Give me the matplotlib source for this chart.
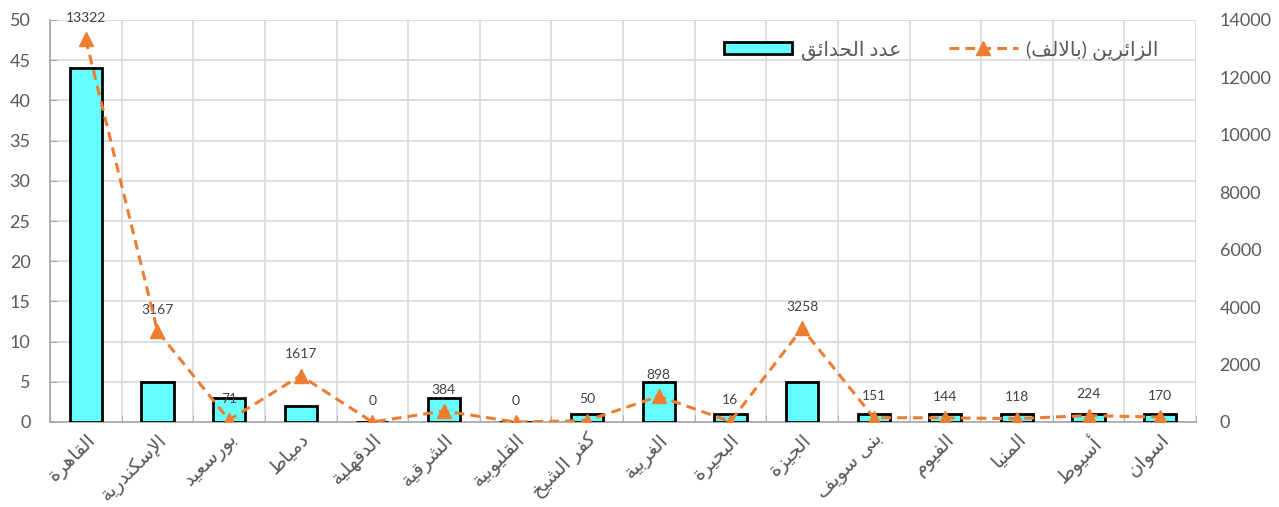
import matplotlib
matplotlib.use("Agg")
import matplotlib.pyplot as plt
import numpy as np

# ---------------- data ----------------
categories = ["القاهرة", "الإسكندرية", "بورسعيد", "دمياط", "الدقهلية", "الشرقية",
              "القليوبية", "كفر الشيخ", "الغربية", "البحيرة", "الجيزة", "بنى سويف",
              "الفيوم", "المنيا", "أسيوط", "اسوان"]
gardens = [44, 5, 3, 2, 0, 3, 0, 1, 5, 1, 5, 1, 1, 1, 1, 1]
visitors = [13322, 3167, 71, 1617, 0, 384, 0, 50, 898, 16, 3258, 151, 144, 118, 224, 170]
label_gardens = "عدد الحدائق"
label_visitors = "الزائرين (بالالف)"
left_ticks = [0, 5, 10, 15, 20, 25, 30, 35, 40, 45, 50]
right_ticks = [0, 2000, 4000, 6000, 8000, 10000, 12000, 14000]

# ---------------- minimal Arabic shaping (presentation forms) ----------------
DUAL = {'ئ': 0xFE89, 'ب': 0xFE8F, 'ت': 0xFE95, 'ث': 0xFE99, 'ج': 0xFE9D, 'ح': 0xFEA1,
        'خ': 0xFEA5, 'س': 0xFEB1, 'ش': 0xFEB5, 'ص': 0xFEB9, 'ض': 0xFEBD, 'ط': 0xFEC1,
        'ظ': 0xFEC5, 'ع': 0xFEC9, 'غ': 0xFECD, 'ف': 0xFED1, 'ق': 0xFED5, 'ك': 0xFED9,
        'ل': 0xFEDD, 'م': 0xFEE1, 'ن': 0xFEE5, 'ه': 0xFEE9, 'ي': 0xFEF1}
RIGHT = {'آ': 0xFE81, 'أ': 0xFE83, 'ؤ': 0xFE85, 'إ': 0xFE87, 'ا': 0xFE8D, 'ة': 0xFE93,
         'د': 0xFEA9, 'ذ': 0xFEAB, 'ر': 0xFEAD, 'ز': 0xFEAF, 'و': 0xFEED, 'ى': 0xFEEF}
LAMALEF = {'آ': 0xFEF5, 'أ': 0xFEF7, 'إ': 0xFEF9, 'ا': 0xFEFB}


def shape(s):
    toks = []
    i = 0
    while i < len(s):
        c = s[i]
        if c == 'ل' and i + 1 < len(s) and s[i + 1] in LAMALEF:
            toks.append(('LA', s[i + 1]))
            i += 2
        else:
            toks.append(c)
            i += 1

    def joins_next(t):
        return isinstance(t, str) and t in DUAL

    def joining(t):
        return isinstance(t, tuple) or t in DUAL or t in RIGHT

    out = []
    for k, t in enumerate(toks):
        prev = toks[k - 1] if k > 0 else None
        nxt = toks[k + 1] if k + 1 < len(toks) else None
        cp = prev is not None and joins_next(prev) and joining(t)
        cn = joins_next(t) and nxt is not None and joining(nxt)
        if isinstance(t, tuple):
            out.append(chr(LAMALEF[t[1]] + (1 if cp else 0)))
        elif t in DUAL:
            idx = 3 if (cp and cn) else 1 if cp else 2 if cn else 0
            out.append(chr(DUAL[t] + idx))
        elif t in RIGHT:
            out.append(chr(RIGHT[t] + (1 if cp else 0)))
        else:
            out.append(t)
    vis = ''.join(reversed(out))
    return vis.translate(str.maketrans('()', ')('))


# ---------------- plot ----------------
plt.rcParams['font.family'] = ['Lato', 'DejaVu Sans']
TICK_C = '#595959'
GRID_C = '#d9d9d9'

fig = plt.figure(figsize=(12.79, 5.07), dpi=100)
ax = fig.add_axes([50 / 1279, 1 - 422 / 507, (1196 - 50) / 1279, (422 - 20) / 507])
ax2 = ax.twinx()

x = np.arange(len(categories))
bars = ax.bar(x, gardens, width=0.45, color='#66FFFF', edgecolor='black',
              linewidth=2, zorder=3)

ax.set_xlim(-0.5, len(categories) - 0.5)
ax.set_ylim(0, 50)
ax.set_yticks(left_ticks)
ax.set_xticks(x)
ax.set_xticklabels([shape(c) for c in categories], rotation=45, ha='right',
                   va='top', rotation_mode='anchor', fontsize=14, color=TICK_C)
ax.set_xticks(np.arange(len(categories) + 1) - 0.5, minor=True)
ax.tick_params(axis='x', which='major', length=0, pad=6)
ax.tick_params(axis='x', which='minor', length=5, direction='in', color='#a6a6a6')
ax.tick_params(axis='y', length=5, direction='in', color='#a6a6a6', labelcolor=TICK_C,
               labelsize=13, pad=14)
ax.grid(axis='y', which='major', color=GRID_C, linewidth=1.2, zorder=0)
ax.grid(axis='x', which='minor', color=GRID_C, linewidth=1.2, zorder=0)
ax.set_axisbelow(True)
for side in ['top', 'right']:
    ax.spines[side].set_visible(False)
ax.spines['left'].set_color('#a6a6a6')
ax.spines['bottom'].set_color('#a6a6a6')
ax.spines['left'].set_linewidth(1.2)
ax.spines['bottom'].set_linewidth(1.2)

line, = ax2.plot(x, visitors, color='#ED7D31', linestyle='--', linewidth=2.2,
                 marker='^', markersize=10.5, dashes=(3.2, 2), zorder=4)
ax2.set_ylim(0, 14000)
ax2.set_yticks(right_ticks)
ax2.tick_params(axis='y', length=0, labelcolor=TICK_C, labelsize=13, pad=17)
for side in ['top', 'right', 'left', 'bottom']:
    ax2.spines[side].set_visible(False)

for xi, v in zip(x, visitors):
    ax2.annotate(str(v), (xi, v), xytext=(0, 11), textcoords='offset points',
                 ha='center', va='bottom', fontsize=10, color='#404040')

leg = fig.legend([bars, line], [shape(label_gardens), shape(label_visitors)],
                 loc='center left', bbox_to_anchor=(724 / 1279, 1 - 50 / 507),
                 ncol=2, frameon=False, fontsize=14.5, handlelength=3.4,
                 handleheight=0.6, handletextpad=0.4, columnspacing=2.4,
                 borderpad=0, borderaxespad=0, labelcolor=TICK_C)

fig.savefig('out.png', dpi=100)
